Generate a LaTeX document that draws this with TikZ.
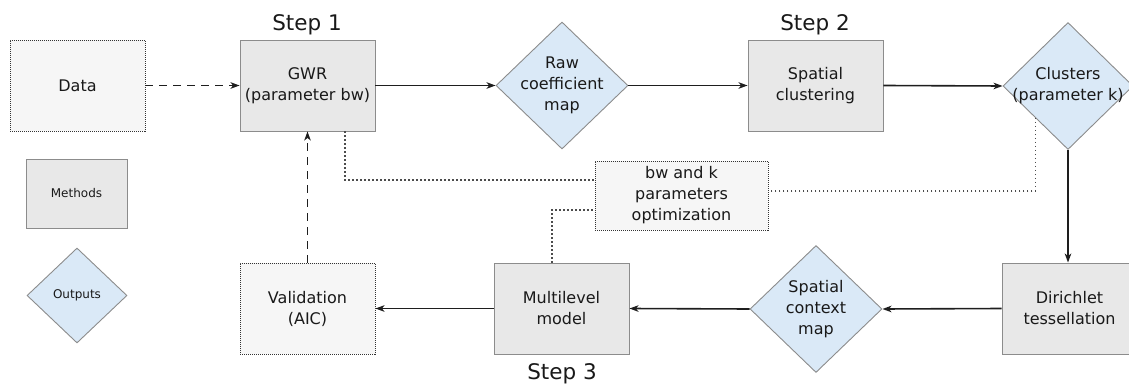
\documentclass[tikz,border=0pt]{standalone}
\usepackage{fontspec}
\setmainfont{DejaVu Sans}
\usetikzlibrary{shapes.geometric,arrows.meta,calc}
\definecolor{methfill}{RGB}{232,232,232}
\definecolor{outfill}{RGB}{218,233,247}
\definecolor{datafill}{RGB}{246,246,246}
\definecolor{bordgray}{RGB}{140,140,140}
\definecolor{linecol}{RGB}{30,30,30}
\tikzset{
  base/.style={inner sep=0pt, align=center, font=\fontsize{16}{21}\selectfont, text=black!90},
  method/.style={base, rectangle, draw=bordgray, line width=0.9pt, fill=methfill, minimum width=135pt, minimum height=91pt},
  datum/.style={base, rectangle, draw=black!80, line width=0.9pt, dash pattern=on 1pt off 1pt, fill=datafill, minimum width=135pt, minimum height=91pt},
  output/.style={base, diamond, draw=bordgray, line width=0.9pt, fill=outfill, minimum width=132pt, minimum height=127pt},
  steplbl/.style={inner sep=0pt, font=\fontsize{21.5}{26}\selectfont, text=black!90},
  flow/.style={draw=linecol, line width=1.6pt, -{Stealth[length=9pt,width=6.5pt,inset=2.5pt]}},
  dflow/.style={flow, dash pattern=on 8pt off 6pt},
  optline/.style={draw=black!70, line width=1.3pt, dash pattern=on 1.2pt off 2.8pt},
}
\begin{document}
\begin{tikzpicture}[x=1pt,y=-1pt]
\useasboundingbox (0,0) rectangle (1129,385);
\clip (0,0) rectangle (1129,385);

% legend
\node[datum] (data) at (77.5,85.5) {Data};
\node[method, minimum width=101pt, minimum height=69pt, font=\fontsize{12}{15}\selectfont] (methods) at (76.5,193.5) {Methods};
\node[output, minimum width=100pt, minimum height=95pt] (outputs) at (77,295.5) {};
\node[inner sep=0pt, font=\fontsize{12}{15}\selectfont, text=black!90] (outputstxt) at (outputs.center) {Outputs};

% top row
\node[method] (gwr) at (307.5,85.5) {GWR\\(parameter bw)};
\node[output] (raw) at (562,85.5) {};
\node[base] (rawtxt) at (raw.center) {Raw\\coefficient\\map};
\node[method] (clus) at (815.5,85.5) {Spatial\\clustering};
\node[output, minimum width=130pt] (clusters) at (1068,86) {};
\node[base] (clusterstxt) at (clusters.center) {Clusters\\(parameter k)};

% bottom row
\node[datum] (valid) at (307.5,308.5) {Validation\\(AIC)};
\node[method] (multi) at (561.5,308.5) {Multilevel\\model};
\node[output] (ctx) at (816,309) {};
\node[base] (ctxtxt) at (ctx.center) {Spatial\\context\\map};
\node[method] (diri) at (1069.5,308.5) {Dirichlet\\tessellation};

% optimization
\node[datum, minimum width=173pt, minimum height=69pt] (bwk) at (681.5,195.5) {bw and k\\parameters\\optimization};

% step labels
\node[steplbl] (s1) at (307,25) {Step 1};
\node[steplbl] (s2) at (815,25) {Step 2};
\node[steplbl] (s3) at (562,374) {Step 3};

% connectors
\draw[dflow] (data.east) -- (gwr.west);
\draw[flow] (gwr.east) -- (raw.west);
\draw[flow] (raw.east) -- (clus.west);
\draw[flow] (clus.east) -- (clusters.west);
\draw[flow] (clusters.south) -- (clusters.south |- diri.north);
\draw[flow] (diri.west) -- (ctx.east);
\draw[flow] (ctx.west) -- (multi.east);
\draw[flow] (multi.west) -- (valid.east);
\draw[dflow] (valid.north) -- (gwr.south);

% dotted optimization links
\draw[optline] ([xshift=37.5pt]gwr.south) |- ([yshift=15.5pt]bwk.west);
\draw[optline] (clusters.south west) |- ([yshift=4.5pt]bwk.east);
\draw[optline] ([xshift=-9.5pt]multi.north) |- ([yshift=-14.5pt]bwk.west);
\end{tikzpicture}
\end{document}
